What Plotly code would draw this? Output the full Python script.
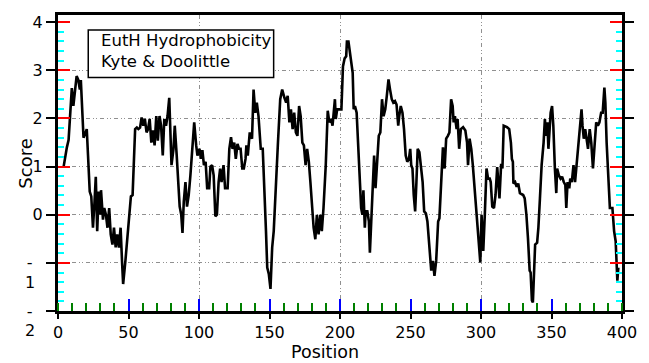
import plotly.graph_objects as go

# ---- data (sequence position, Kyte & Doolittle score) ----
positions = [
    4.0, 5.2, 6.3, 7.5, 8.6, 9.8, 10.9, 12.1, 13.2, 14.4, 15.5, 16.2, 17.2, 18.1, 19.5, 20.4,
    21.3, 22.5, 23.6, 24.8, 25.9, 26.8, 27.8, 28.9, 29.8, 30.5, 31.9, 32.8, 34.0, 35.1, 36.3,
    37.4, 38.6, 39.7, 40.9, 42.0, 43.2, 44.4, 45.5, 46.2, 47.8, 50.1, 51.7, 52.9, 53.6, 54.7,
    55.9, 57.0, 58.2, 59.3, 60.5, 61.6, 62.8,
    63.9, 65.0, 66.2, 67.4, 68.5, 69.7, 70.8, 72.0, 73.1, 74.3, 75.4, 76.6, 77.7, 78.9, 79.6,
    80.5, 81.9, 82.8, 84.2, 85.1, 86.3, 87.4, 88.3, 89.2, 90.4, 91.5, 92.7, 93.9, 95.0, 96.6,
    98.0, 98.9, 100.3, 101.5, 102.4, 103.5, 104.7, 105.8, 107.2, 108.1, 109.3, 110.4, 111.6,
    112.7, 113.9, 115.0, 116.0, 117.4, 118.5, 120.3, 121.5, 122.7, 123.8, 125.0, 126.1, 127.3,
    128.4,
    129.5, 130.7, 131.8, 133.0, 133.6, 134.6, 136.0, 137.6, 138.7, 139.9, 141.0, 142.2, 143.8,
    145.2, 146.3, 147.5, 148.4, 149.5, 150.7, 151.9, 153.0, 154.4, 156.0, 157.6, 159.0, 160.6,
    161.8, 162.9, 164.1, 165.2, 166.4, 167.5, 168.7, 169.8, 171.0, 172.1, 173.3, 174.4, 175.6,
    176.7, 177.9, 179.0, 180.2, 181.3, 182.5, 183.6, 184.8, 186.0, 187.1, 188.3, 189.9, 191.3,
    192.4, 193.6, 194.7,
    196.4, 197.0, 198.0, 199.3, 201.0, 202.1, 203.3, 204.4, 204.9, 206.0, 207.2, 208.3, 209.0,
    209.7, 210.6, 211.8, 212.9, 214.1, 215.0, 215.9, 216.6, 217.6, 218.2, 219.4, 220.5, 221.2,
    222.4, 223.5, 224.2, 225.2, 226.3, 227.5, 228.6, 229.8, 230.9, 232.1, 233.2, 234.4, 235.5,
    236.7, 237.8, 239.0, 240.1, 241.3, 242.0, 243.1, 244.3, 245.4, 246.6, 247.7, 248.9, 249.8,
    250.5, 251.4, 252.3, 253.3, 254.2, 255.1, 256.3, 257.4, 258.6, 259.7, 260.9, 262.0, 263.2,
    264.7, 265.9, 267.0, 268.2, 269.6, 270.5, 271.6, 273.0, 274.2, 275.3, 276.5, 277.6, 278.8,
    279.9, 280.6, 281.5, 282.7, 283.4, 284.5, 285.7, 287.3, 288.9, 290.1, 290.8, 291.9, 293.1,
    294.2, 295.4, 296.5, 297.7, 298.4, 299.5, 300.4, 301.6, 302.7, 303.9, 305.0, 306.2, 306.9,
    308.0, 309.2, 310.3, 311.5, 313.1, 314.3, 315.2, 316.1, 318.4, 320.0, 321.2, 321.9, 322.6,
    323.0, 324.2, 325.3,
    326.4, 327.6, 329.9, 331.0, 332.2, 333.3, 334.5, 335.2, 336.1, 336.8, 337.5, 338.4, 339.8,
    340.7, 341.8, 343.0, 344.4, 345.3, 346.2, 347.1, 347.8, 348.8, 349.4, 350.4, 351.3, 352.4,
    353.4, 354.0, 355.2, 356.4, 357.5, 358.7, 359.8, 360.5, 361.4, 362.6, 363.3, 364.4, 365.6,
    366.7, 367.9, 369.0, 370.2, 371.3, 372.0, 372.9, 373.9, 374.8, 375.9, 377.1, 378.2, 379.4,
    380.5, 381.7, 382.9, 384.0, 385.2, 386.3, 387.5, 388.2, 389.1, 390.2, 391.4, 393.2, 394.4,
    395.5, 396.2, 396.7, 397.4,
]
scores = [
    1.00, 1.23, 1.40, 1.55, 2.05, 2.63, 2.26, 2.53, 2.88, 2.80, 2.60, 2.80, 2.05, 1.60, 1.70, 1.78,
    1.23, 0.48, 0.38, -0.27, 0.27, 0.79, -0.34, 0.48, 0.00, 0.51, -0.10, 0.14, 0.00, -0.27, 0.14,
    -0.41, -0.62, -0.27, -0.68, -0.41, -0.68, -0.27, -1.03, -1.44, -0.96, -0.20, 0.38, 0.41, 1.03, 1.78,
    1.81, 1.78, 1.81, 2.02, 1.85, 1.99, 1.71,
    1.78, 1.99, 1.50, 1.75, 1.44, 2.05, 1.54, 2.05, 1.85, 1.23, 1.99, 1.85, 2.05, 2.43, 1.58,
    1.03, 1.37, 1.85, 1.23, 0.68, 0.17, 0.00, -0.38, 0.27, 0.68, 0.17, 0.41, 0.82, 1.37, 1.92,
    1.44, 1.23, 1.37, 1.16, 1.34, 1.03, 1.10, 0.55, 0.55, 1.00, 1.03, 0.82, -0.03,
    0.00, 0.68, 0.96, 0.68, 1.03, 0.55, 0.55, 1.37, 1.61, 1.37, 1.50, 1.16, 1.47,
    1.37,
    1.37, 0.96, 0.96, 1.16, 1.44, 1.23, 1.71, 1.58, 2.60, 2.12, 2.33, 2.05, 1.37,
    1.37, 0.68, -0.34, -1.10, -1.23, -1.54, -0.68, -0.34, 0.68, 1.50, 2.40, 2.60, 2.43,
    2.33, 2.47, 1.92, 2.19, 1.78, 2.12, 1.71, 1.64, 2.26, 2.05, 1.50, 1.44, 1.03,
    1.37, 1.10, 0.68, 0.21, -0.27, -0.51, 0.00, -0.41, 0.00, -0.34, 0.14, 1.03, 2.16,
    1.92, 1.99, 1.85,
    2.40, 1.99, 2.19, 2.19, 2.19, 3.08, 3.25, 3.29, 3.60, 3.60, 3.36, 3.08, 2.95,
    2.19, 2.26, 2.12, 1.37, 0.68, 0.14, 0.00, 0.51, -0.27, 0.07, 0.07, -0.14, -0.79,
    0.00, 0.89, 1.23, 0.55, 1.10, 1.64, 1.71, 2.40, 2.05, 2.19, 2.47, 2.81, 2.60,
    2.40, 2.33, 2.36, 2.29, 1.85, 2.05, 2.26, 2.12, 1.78, 1.23, 1.10, 1.16, 1.37,
    1.03, 0.96, 0.41, 0.07, 0.68, 1.37, 1.30, 0.96, 0.68, 0.07, 0.03, -0.14, -0.62,
    -1.16, -0.96, -1.27, -0.96, -0.14, -0.07, 0.68, 1.40, 0.96, 1.58, 1.64, 1.71, 2.40,
    2.26, 1.92, 2.05, 1.78, 1.99, 1.37, 1.78, 1.82, 1.75, 1.50, 1.03, 1.58, 1.37,
    1.03, 0.55, 0.00, -0.48, -0.68, -0.99, 0.00, -0.75, 0.00, 0.96, 0.75, 0.75, 0.68,
    0.17, 0.14, 0.41, 0.99, 0.34, 1.06, 0.96, 1.85, 1.82, 1.78, 1.50, 1.16, 1.10,
    0.65, 0.68, 0.58,
    0.65, 0.45, 0.41, 0.34, 0.00, -0.48, -1.16, -1.20, -1.78, -1.82, -1.10, -0.62, -0.58,
    -0.27, 0.34, 1.03, 1.50, 1.99, 1.64, 1.92, 1.37, 2.05, 2.12, 2.26, 1.85, 0.96,
    0.45, 0.96, 0.82, 0.75, 0.79, 0.68, 0.62, 0.14, 0.68, 0.55, 0.75, 0.68, 1.03,
    0.68, 1.10, 1.50, 1.78, 2.19, 1.85, 1.58, 1.78, 1.58, 1.37, 1.78, 1.50, 0.96,
    1.50, 1.92, 1.85, 1.92, 2.12, 2.12, 2.64, 2.33, 1.50, 0.89, 0.14, 0.14, -0.34,
    -0.55, -1.23, -1.37, -1.10,
]

x_tick_step = 50
x_minor_step = 10
x_grid_vals = [100, 200, 300]
y_tick_vals = [-2, -1, 0, 1, 2, 3, 4]
y_tick_text = ["-\u00a0\u00a0", "-\u00a0\u00a0", "0", "1", "2", "3", "4"]
y_minor_step = 0.2
y_grid_vals = [-1, 0, 1, 2, 3]
x_range = [0, 400]
y_range = [-2, 4.15]
title_lines = ["EutH Hydrophobicity", "Kyte & Doolittle"]
x_title = "Position"
y_title = "Score"

FONT = "DejaVu Sans"
GRID = dict(showgrid=True, gridcolor="#909090", gridwidth=1,
            griddash="4px,3px,1px,2px,1px,3px")

fig = go.Figure()
fig.add_trace(go.Scatter(x=positions, y=scores, mode="lines",
                         line=dict(color="black", width=2.6),
                         xaxis="x", yaxis="y", showlegend=False, hoverinfo="skip"))
for xa, ya in [("x2", "y"), ("x3", "y"), ("x", "y2"), ("x", "y3")]:
    fig.add_trace(go.Scatter(x=positions, y=scores, xaxis=xa, yaxis=ya, mode="lines",
                             line=dict(color="rgba(0,0,0,0)", width=0.1),
                             showlegend=False, hoverinfo="skip"))

fig.update_layout(
    width=649, height=363,
    margin=dict(l=58, r=13, t=13, b=52),
    paper_bgcolor="white", plot_bgcolor="white", showlegend=False,
    font=dict(family=FONT, color="black", size=16),
    xaxis=dict(range=x_range, tickmode="linear", tick0=0, dtick=x_tick_step,
               ticks="outside", ticklen=5, tickwidth=2, tickcolor="black",
               showline=True, linecolor="black", linewidth=3,
               showgrid=False, zeroline=False, tickfont=dict(size=16),
               minor=dict(ticks="inside", dtick=x_minor_step, ticklen=8, tickwidth=2,
                          tickcolor="green", showgrid=False)),
    xaxis2=dict(range=x_range, overlaying="x", anchor="y", side="bottom",
                tickmode="linear", tick0=0, dtick=x_tick_step, ticks="inside", ticklen=12,
                tickwidth=2, tickcolor="blue", showticklabels=False,
                showline=True, mirror=True, linecolor="black", linewidth=3,
                showgrid=False, zeroline=False),
    xaxis3=dict(range=x_range, overlaying="x", anchor="y", side="bottom",
                tickmode="array", tickvals=x_grid_vals, ticks="", showticklabels=False,
                showline=False, zeroline=False, **GRID),
    yaxis=dict(range=y_range, tickmode="linear", tick0=-2, dtick=1,
               ticks="inside", ticklen=12, tickwidth=2, tickcolor="red",
               showticklabels=False, showline=True, linecolor="black", linewidth=3,
               mirror="ticks", showgrid=False, zeroline=False,
               minor=dict(ticks="inside", dtick=y_minor_step, ticklen=6, tickwidth=2,
                          tickcolor="cyan", showgrid=False)),
    yaxis2=dict(range=y_range, overlaying="y", anchor="x", side="left",
                tickmode="array", tickvals=y_tick_vals, ticktext=y_tick_text,
                ticks="outside", ticklen=9, tickwidth=2, tickcolor="black",
                showline=True, linecolor="black", linewidth=3, mirror="ticks",
                showgrid=False, zeroline=False, tickfont=dict(size=16)),
    yaxis3=dict(range=y_range, overlaying="y", anchor="x", side="left",
                tickmode="array", tickvals=y_grid_vals, ticks="", showticklabels=False,
                showline=False, zeroline=False, **GRID),
)

fig.add_shape(type="rect", xref="paper", yref="paper",
              x0=(89 - 58) / 578, x1=(279 - 58) / 578,
              y0=(311 - 76) / 298, y1=(311 - 28) / 298,
              line=dict(color="black", width=1.5), fillcolor="white", layer="above")

annotations = [
    dict(text=title_lines[0], xref="paper", yref="paper", x=(100 - 58) / 578,
         y=(311 - 39) / 298, xanchor="left", yanchor="middle", showarrow=False,
         font=dict(size=16.5)),
    dict(text=title_lines[1], xref="paper", yref="paper", x=(100 - 58) / 578,
         y=(311 - 59.5) / 298, xanchor="left", yanchor="middle", showarrow=False,
         font=dict(size=16.5)),
    dict(text="1", xref="paper", yref="y", x=0, y=-1, xanchor="right", yanchor="middle",
         xshift=-21, yshift=-20, showarrow=False, font=dict(size=16)),
    dict(text="2", xref="paper", yref="y", x=0, y=-2, xanchor="right", yanchor="middle",
         xshift=-21, yshift=-19, showarrow=False, font=dict(size=16)),
    dict(text=x_title, xref="paper", yref="paper", x=(332 - 58) / 578, y=0,
         xanchor="center", yanchor="top", yshift=-29, showarrow=False,
         font=dict(size=17.5)),
    dict(text=y_title, xref="paper", yref="paper", x=(25 - 58) / 578, y=0.497,
         xanchor="center", yanchor="middle", textangle=-90, showarrow=False,
         font=dict(size=18)),
]
fig.update_layout(annotations=annotations)

fig.write_html("out.html")
